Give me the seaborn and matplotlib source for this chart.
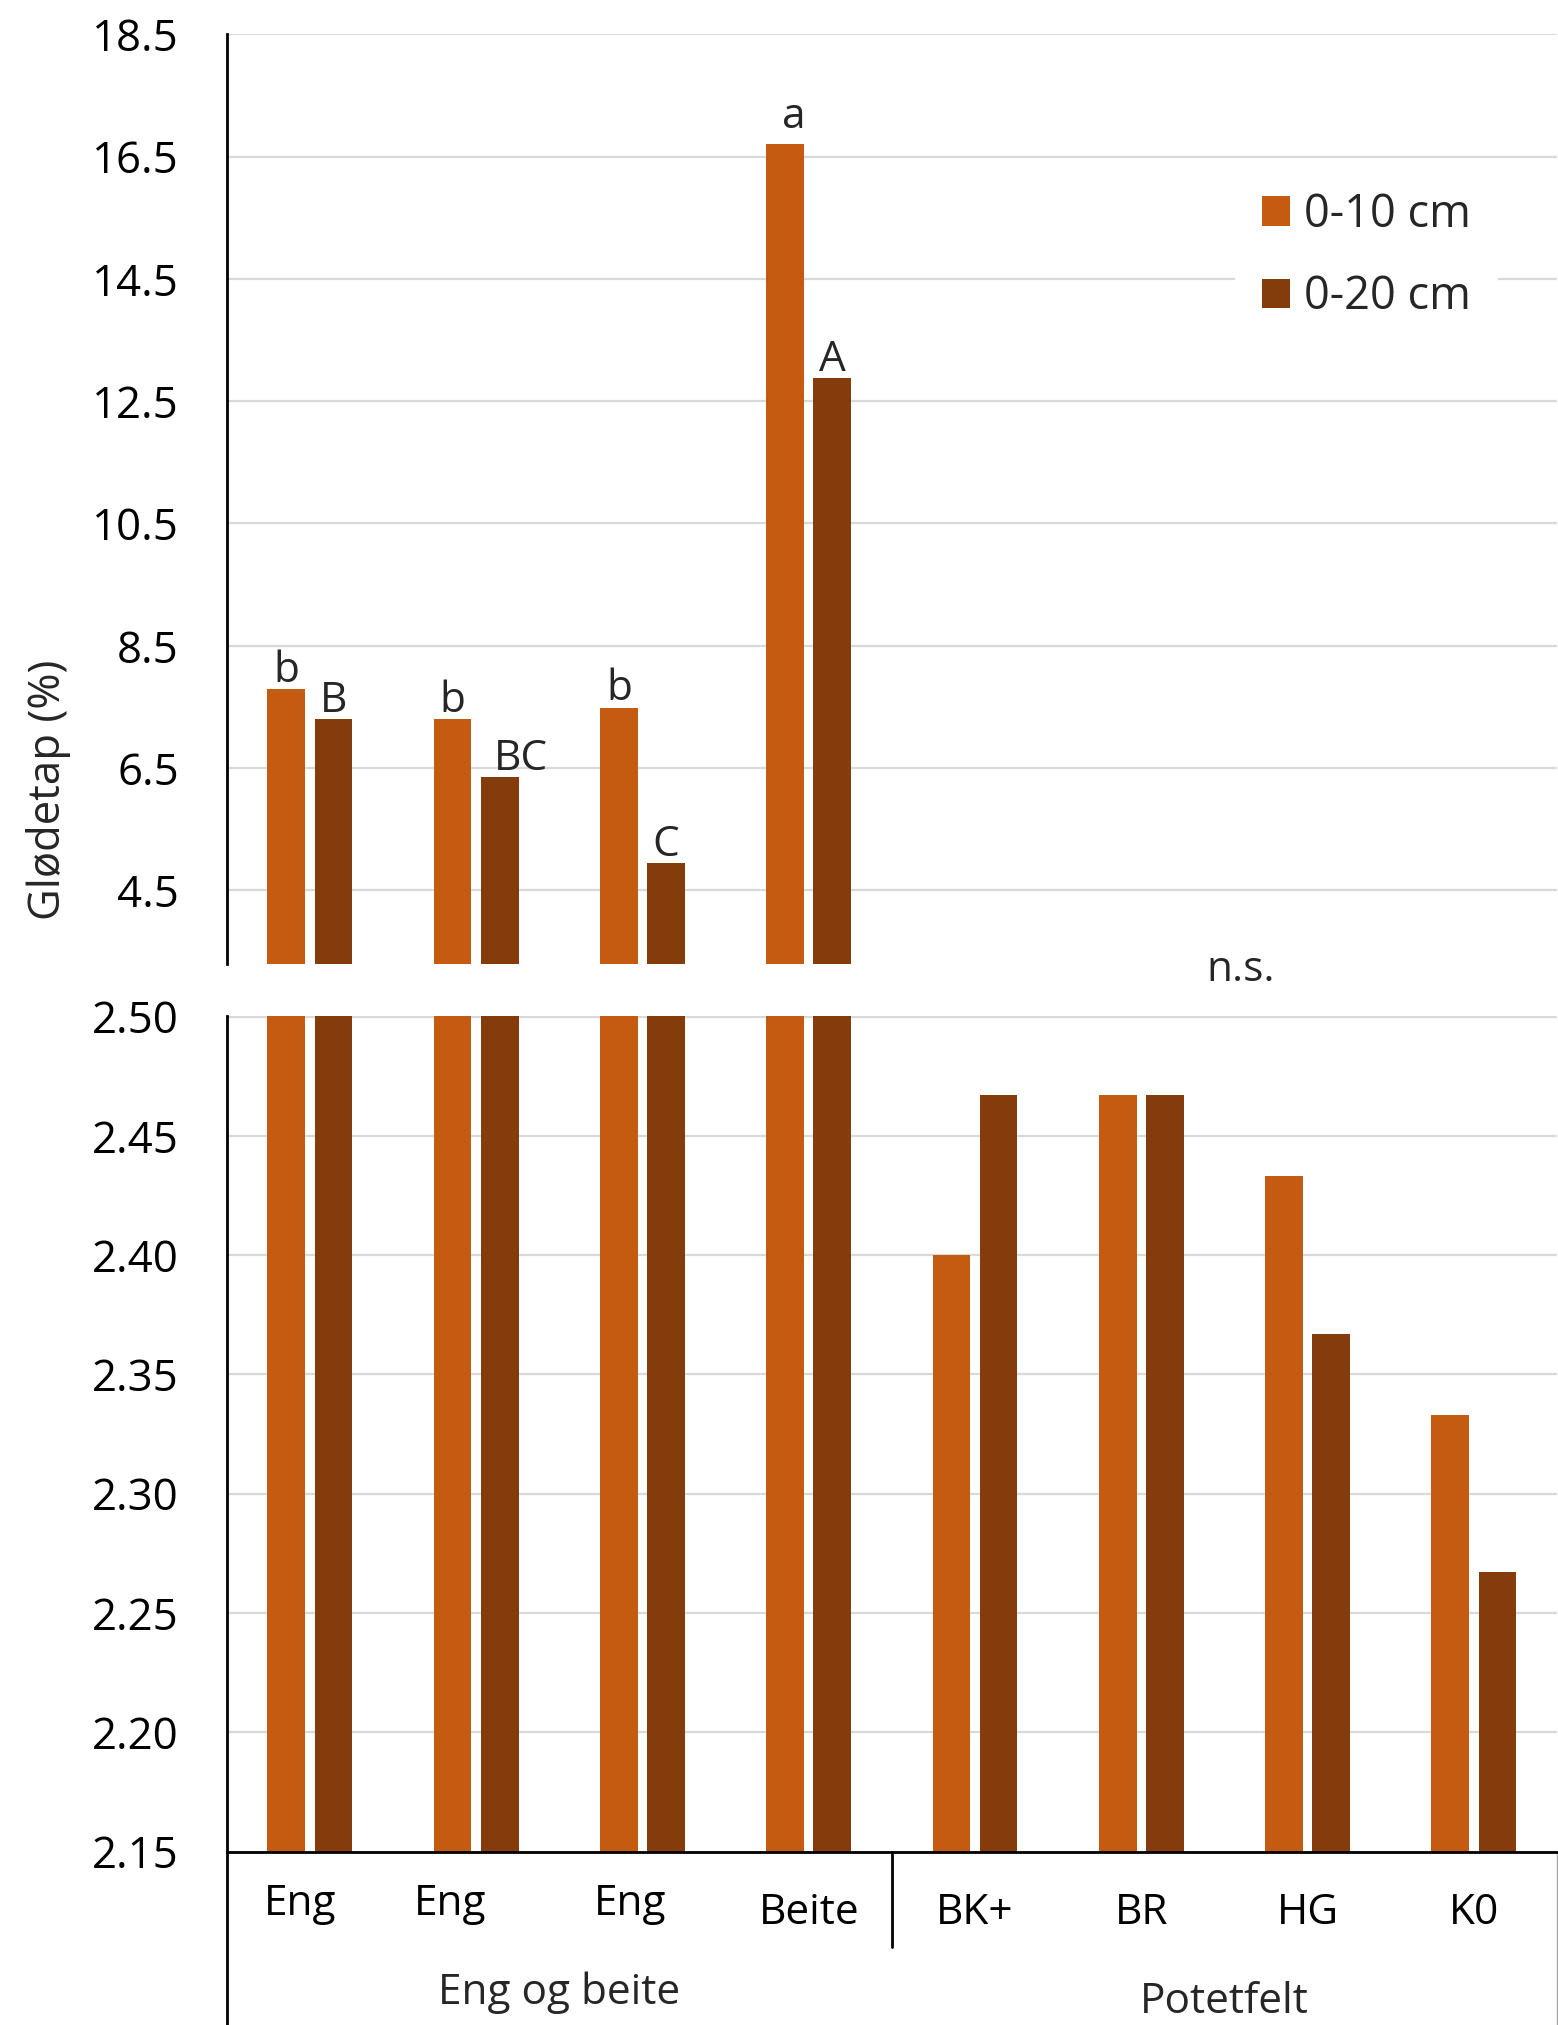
import numpy as np
import pandas as pd
import matplotlib
matplotlib.use("Agg")
import matplotlib.pyplot as plt
import matplotlib.transforms as mtrans
from matplotlib.ticker import FormatStrFormatter
import seaborn as sns

# Values (glødetap in %)
sites = ["Eng 1", "Eng 2", "Eng 3", "Beite", "BK+", "BR", "HG", "K0"]
site_labels = ["Eng", "Eng", "Eng", "Beite", "BK+", "BR", "HG", "K0"]
site_group = ["Eng og beite"] * 4 + ["Potetfelt"] * 4
depth_names = ["0-10 cm", "0-20 cm"]
loss_0_10 = [7.79, 7.30, 7.49, 16.71, 2.400, 2.467, 2.433, 2.333]
loss_0_20 = [7.30, 6.35, 4.94, 12.88, 2.467, 2.467, 2.367, 2.267]
letters_0_10 = ["b", "b", "b", "a", "", "", "", ""]
letters_0_20 = ["B", "BC", "C", "A", "", "", "", ""]
potet_note = "n.s."
y_label = "Glødetap (%)"

df = pd.DataFrame({
    "site": sites * 2,
    "depth": np.repeat(depth_names, len(sites)),
    "loss": loss_0_10 + loss_0_20,
})

sns.set_style("white")
plt.rcParams["font.family"] = ["Open Sans", "DejaVu Sans"]
pal = ["#C55A11", "#843C0C"]
grid_col = "#d9d9d9"
fs = 30.5

W, H = 1558, 2025
fig = plt.figure(figsize=(W / 100, H / 100), dpi=100)
left = 226.7 / W
width = 1557 / W - left
ax_top = fig.add_axes([left, 1 - 964.3 / H, width, (964.3 - 34.4) / H])
ax_bot = fig.add_axes([left, 1 - 1851.6 / H, width, (1851.6 - 1016.5) / H])

for ax in (ax_top, ax_bot):
    sns.barplot(data=df, x="site", y="loss", hue="depth", palette=pal,
                saturation=1, width=0.567, gap=0.2, errorbar=None,
                legend=False, linewidth=0, ax=ax)
    ax.set_xlabel("")
    ax.set_ylabel("")
    ax.set_axisbelow(True)
    ax.yaxis.grid(True, color=grid_col, lw=1.6)
    ax.xaxis.grid(False)
    ax.tick_params(axis="y", direction="inout", length=23, width=2,
                   pad=23, labelsize=31.5, colors="black")
    for s in ["top", "right"]:
        ax.spines[s].set_visible(False)
    ax.spines["left"].set_linewidth(2)
    ax.spines["left"].set_color("black")

# upper (broken) part
ax_top.set_ylim(3.29, 18.5)
ax_top.set_yticks(np.arange(4.5, 18.6, 2))
ax_top.yaxis.set_major_formatter(FormatStrFormatter("%.1f"))
ax_top.spines["bottom"].set_visible(False)
ax_top.tick_params(axis="x", bottom=False, labelbottom=False)

lab10 = ax_top.bar_label(ax_top.containers[0], labels=letters_0_10, padding=-2, fontsize=fs)
lab20 = ax_top.bar_label(ax_top.containers[1], labels=letters_0_20, padding=-2, fontsize=fs)
# small offsets (points) to match the original label placement
lab20[1].xyann = (15, -2)
lab10[3].xyann = (6, 4)

# lower part
ax_bot.set_ylim(2.15, 2.50)
ax_bot.set_yticks(np.arange(2.15, 2.501, 0.05))
ax_bot.yaxis.set_major_formatter(FormatStrFormatter("%.2f"))
ax_bot.spines["bottom"].set_linewidth(2)
ax_bot.spines["bottom"].set_color("black")
ax_bot.set_xticks(range(len(sites)))
ax_bot.set_xticklabels(site_labels)
ax_bot.tick_params(axis="x", length=0, pad=29, labelsize=fs, colors="black")

# the "Eng" labels sit a bit higher/left in the original
nudges = [(-10, 9), (-26, 9), (-12, 9)]
for lbl, (dx, dy) in zip(ax_bot.get_xticklabels(), nudges):
    lbl.set_transform(lbl.get_transform() +
                      mtrans.ScaledTranslation(dx / 100, dy / 100, fig.dpi_scale_trans))

# multi-level category axis
blend = mtrans.blended_transform_factory(ax_bot.transData, ax_bot.transAxes)
ax_bot.plot([0, 0], [0, -0.22], transform=ax_bot.transAxes, color="black",
            lw=2, clip_on=False)
ax_bot.plot([1, 1], [0, -0.22], transform=ax_bot.transAxes, color="#a6a6a6",
            lw=1, clip_on=False)
groups = list(dict.fromkeys(site_group))
idx = np.arange(len(sites))
for g, yb in zip(groups, [-0.182, -0.193]):
    members = idx[np.array(site_group) == g]
    ax_bot.text(members.mean(), yb, g, transform=blend, ha="center",
                va="baseline", fontsize=fs)
    if members.max() < len(sites) - 1:
        ax_bot.plot([members.max() + 0.5] * 2, [0, -0.114], transform=blend,
                    color="black", lw=2, clip_on=False)

for ax in (ax_top, ax_bot):
    ax.set_xlim(-0.5, len(sites) - 0.5)

fig.text(48.8 / W, 1 - 790 / H, y_label, rotation=90, ha="center",
         va="center", fontsize=31.5)
fig.text(1240.7 / W, 1 - 970 / H, potet_note, ha="center", va="center",
         fontsize=fs)

handles = [c.patches[0] for c in ax_top.containers]
leg = fig.legend(handles, depth_names, loc="center left",
                 bbox_to_anchor=(1235 / W, 1 - 256 / H), fontsize=32.5,
                 handlelength=0.62, handleheight=0.62, handletextpad=0.3,
                 labelspacing=0.8, borderpad=0.6, borderaxespad=0,
                 fancybox=False, frameon=True, framealpha=1)
leg.get_frame().set_edgecolor("white")
leg.get_frame().set_linewidth(0)

fig.savefig("out.png", dpi=100)
